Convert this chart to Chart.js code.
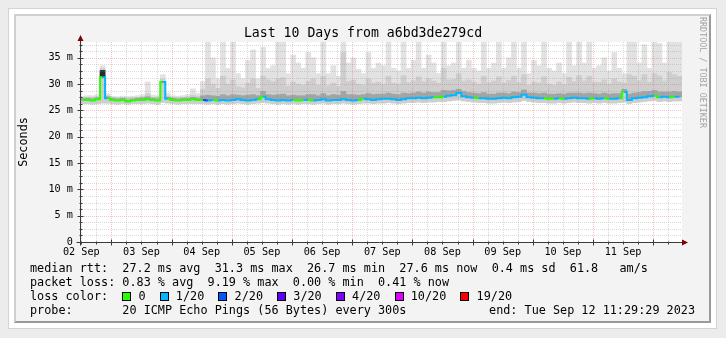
<!DOCTYPE html>
<html>
<head>
<meta charset="utf-8">
<title>a6bd3de279cd – last 10 days</title>
<script src="https://cdn.jsdelivr.net/npm/chart.js@4.4.0/dist/chart.umd.min.js"></script>
<style>
  html, body { margin: 0; padding: 0; width: 726px; height: 338px; overflow: hidden; background: #ececec; }
  #outer { position: absolute; left: 8px; top: 8px; width: 709px; height: 321px; box-sizing: border-box;
           background: #fff; border: 1px solid #d3d3d3; }
  #inner { position: absolute; left: 14px; top: 14px; width: 697px; height: 309px; box-sizing: border-box;
           background: #f3f3f3; border-top: 2px solid #cfcfcf; border-left: 2px solid #cfcfcf;
           border-right: 2px solid #9a9a9a; border-bottom: 2px solid #9a9a9a; }
  canvas { position: absolute; left: 0; top: 0; }
  .t { position: absolute; font-family: "DejaVu Sans Mono", monospace; color: #000; white-space: pre; }
  #title { left: 0; width: 726px; text-align: center; top: 24px; font-size: 13.2px; line-height: 18px; }
  .row { left: 30px; font-size: 11.8px; line-height: 14px; }
  #end { right: 31px; font-size: 11.8px; line-height: 14px; top: 303px; }
  .sw { display: inline-block; width: 9px; height: 9px; box-sizing: border-box; border: 1px solid #000;
        vertical-align: -1px; }
  #wm { left: 698px; top: 17px; font-size: 8.4px; line-height: 10px; color: #a3a3a3; writing-mode: vertical-rl; }
</style>
</head>
<body>
<div id="outer"></div>
<div id="inner"></div>
<canvas id="c" width="726" height="338"></canvas>
<div class="t" id="title">Last 10 Days from a6bd3de279cd</div>
<div class="t" id="wm">RRDTOOL / TOBI OETIKER</div>
<div class="t row" style="top:261px">median rtt:  27.2 ms avg  31.3 ms max  26.7 ms min  27.6 ms now  0.4 ms sd  61.8   am/s</div>
<div class="t row" style="top:275px">packet loss: 0.83 % avg  9.19 % max  0.00 % min  0.41 % now</div>
<div class="t row" id="lossRow" style="top:289px"></div>
<div class="t row" style="top:303px">probe:       20 ICMP Echo Pings (56 Bytes) every 300s</div>
<div class="t" id="end">end: Tue Sep 12 11:29:29 2023</div>
<script>
// Time base: the graph covers 240 hours ending Tue Sep 12 11:29:29 2023, in 2-hour bins.
const startTime = Date.UTC(2023, 8, 2, 11, 29, 29);
const spanHours = 240;
const binHours = 2;

// Median round-trip time per bin (ms)
const median = [
  27.0, 27.0, 26.9, 27.1, 31.3, 27.3, 27.0, 26.9, 27.0, 26.7, 26.9, 27.0,
  27.0, 27.1, 27.0, 26.9, 30.4, 27.2, 27.0, 26.9, 27.0, 27.0, 27.1, 27.0,
  27.0, 26.9, 27.0, 26.9, 27.0, 26.9, 27.0, 27.1, 27.0, 26.9, 27.0, 27.1,
  27.6, 27.1, 27.0, 26.9, 27.0, 26.9, 27.0, 26.9, 27.0, 27.0, 26.9, 27.0,
  27.1, 26.9, 27.0, 27.0, 27.1, 27.0, 26.9, 27.0, 27.2, 27.1, 27.0, 27.1,
  27.2, 27.2, 27.1, 27.0, 27.1, 27.3, 27.3, 27.4, 27.3, 27.4, 27.5, 27.5,
  27.6, 27.8, 27.9, 28.3, 27.7, 27.5, 27.4, 27.3, 27.3, 27.2, 27.2, 27.3,
  27.4, 27.3, 27.5, 27.6, 28.0, 27.5, 27.4, 27.3, 27.3, 27.2, 27.2, 27.3,
  27.2, 27.3, 27.4, 27.3, 27.3, 27.2, 27.3, 27.2, 27.3, 27.2, 27.2, 27.3,
  28.5, 27.0, 27.3, 27.4, 27.5, 27.7, 27.8, 27.5, 27.6, 27.5, 27.6, 27.6
];

// Lost pings (out of 20) per bin
const lossPings = [
  0, 0, 0, 0, 1, 0, 0, 0, 0, 0, 0, 0,
  0, 0, 0, 0, 1, 0, 0, 0, 0, 0, 0, 0,
  2, 1, 0, 1, 1, 1, 1, 1, 1, 1, 1, 0,
  1, 1, 1, 1, 1, 1, 0, 0, 1, 0, 1, 1,
  1, 1, 1, 1, 1, 1, 1, 0, 1, 1, 1, 1,
  1, 1, 1, 1, 1, 1, 1, 1, 1, 1, 0, 0,
  1, 1, 1, 1, 1, 1, 0, 1, 1, 1, 1, 1,
  1, 1, 1, 1, 1, 1, 1, 1, 0, 0, 1, 0,
  1, 1, 1, 1, 1, 0, 1, 1, 0, 1, 1, 0,
  1, 1, 1, 1, 1, 1, 0, 1, 1, 0, 1, 1
];

// Smoke: fastest ping per bin (ms)
const smokeMin = [
  26.3, 26.3, 26.2, 26.3, 26.4, 26.4, 26.3, 26.2, 26.3, 26.2, 26.3, 26.3,
  26.3, 26.4, 26.3, 26.2, 26.5, 26.4, 26.3, 26.2, 26.3, 26.3, 26.3, 26.3,
  26.3, 26.2, 26.3, 26.2, 26.3, 26.2, 26.3, 26.4, 26.3, 26.2, 26.3, 26.4,
  26.5, 26.4, 26.3, 26.2, 26.3, 26.2, 26.3, 26.2, 26.3, 26.3, 26.2, 26.3,
  26.4, 26.2, 26.3, 26.3, 26.4, 26.3, 26.2, 26.3, 26.4, 26.4, 26.3, 26.4,
  26.4, 26.5, 26.4, 26.3, 26.4, 26.5, 26.5, 26.6, 26.5, 26.6, 26.6, 26.7,
  26.7, 26.8, 26.9, 27.0, 26.8, 26.7, 26.6, 26.5, 26.5, 26.4, 26.4, 26.5,
  26.6, 26.5, 26.6, 26.7, 26.9, 26.7, 26.6, 26.5, 26.5, 26.4, 26.4, 26.5,
  26.4, 26.5, 26.6, 26.5, 26.5, 26.4, 26.5, 26.4, 26.5, 26.4, 26.4, 26.5,
  26.6, 26.3, 26.5, 26.6, 26.7, 26.8, 26.9, 26.7, 26.8, 26.7, 26.8, 26.8
];

// Smoke: slowest ping per bin (ms, clipped at the top of the graph)
const smokeMax = [
  27.7, 27.8, 27.8, 28.0, 33.5, 28.2, 27.7, 27.6, 27.7, 27.6, 27.7, 27.8,
  28.0, 30.4, 27.9, 27.8, 31.8, 28.3, 27.8, 27.7, 27.8, 28.0, 29.1, 28.2,
  30.5, 38.0, 35.0, 31.0, 38.0, 33.0, 38.0, 32.0, 31.0, 34.5, 36.5, 31.0,
  37.0, 33.0, 33.5, 38.0, 38.0, 32.0, 35.5, 34.0, 33.0, 36.0, 35.0, 32.0,
  38.0, 32.0, 33.5, 31.5, 38.0, 34.0, 35.0, 32.8, 32.0, 36.0, 33.0, 34.0,
  33.5, 38.0, 33.0, 32.5, 38.0, 33.0, 34.5, 38.0, 33.0, 35.5, 34.0, 32.0,
  38.0, 33.5, 34.0, 38.0, 33.0, 34.5, 33.0, 32.5, 38.0, 33.0, 34.0, 38.0,
  33.0, 35.0, 38.0, 33.0, 38.0, 32.0, 34.5, 33.5, 38.0, 33.0, 32.5, 34.0,
  32.0, 38.0, 33.5, 38.0, 34.0, 38.0, 33.0, 33.5, 35.0, 32.5, 36.0, 33.0,
  32.0, 38.0, 38.0, 34.0, 37.5, 33.0, 38.0, 37.7, 34.0, 38.0, 38.0, 38.0
];

// Smoke: upper edge of the dense middle pings per bin (ms)
const smokeMid = [
  27.4, 27.5, 27.5, 27.6, 33.0, 27.8, 27.4, 27.4, 27.4, 27.4, 27.4, 27.5,
  27.6, 28.2, 27.5, 27.5, 30.9, 27.7, 27.5, 27.4, 27.5, 27.6, 27.9, 27.7,
  29.0, 31.0, 30.0, 29.2, 31.5, 30.0, 30.8, 29.5, 29.3, 30.2, 31.0, 29.2,
  31.5, 30.8, 30.5, 31.0, 31.2, 29.6, 30.4, 30.0, 29.8, 30.5, 31.0, 29.8,
  31.5, 29.7, 30.2, 29.6, 36.0, 30.5, 30.8, 30.0, 29.8, 31.0, 30.2, 30.4,
  30.0, 31.5, 30.2, 30.0, 31.6, 30.3, 30.6, 31.4, 30.5, 31.0, 30.6, 30.2,
  33.0, 30.8, 30.9, 32.0, 30.6, 30.8, 30.4, 30.0, 31.5, 30.3, 30.6, 31.4,
  30.2, 30.7, 31.5, 30.3, 31.8, 29.8, 30.4, 30.2, 31.4, 30.0, 29.8, 30.4,
  29.9, 31.3, 30.5, 31.6, 30.6, 31.5, 30.4, 30.3, 30.8, 30.0, 31.0, 30.4,
  30.2, 31.8, 31.5, 30.6, 31.8, 30.4, 32.0, 31.6, 30.6, 32.2, 31.8, 31.5
];

// Smoke: dark core just above the median per bin (ms)
const coreTop = [
  27.3, 27.3, 27.2, 27.4, 32.6, 27.6, 27.3, 27.2, 27.3, 27.0, 27.2, 27.3,
  27.4, 27.6, 27.3, 27.2, 30.5, 27.5, 27.3, 27.2, 27.3, 27.3, 27.5, 27.3,
  27.8, 27.9, 27.8, 27.7, 28.0, 27.8, 28.0, 27.9, 27.8, 27.9, 28.0, 27.8,
  28.6, 28.0, 27.9, 28.0, 28.1, 27.8, 27.9, 27.8, 27.8, 28.0, 28.0, 27.8,
  28.2, 27.8, 28.0, 27.9, 28.6, 28.0, 28.0, 27.9, 28.0, 28.2, 28.0, 28.1,
  28.1, 28.3, 28.1, 28.0, 28.3, 28.2, 28.3, 28.5, 28.3, 28.5, 28.4, 28.4,
  28.8, 28.7, 28.8, 29.0, 28.6, 28.4, 28.3, 28.2, 28.4, 28.1, 28.1, 28.3,
  28.3, 28.2, 28.5, 28.4, 28.9, 28.3, 28.3, 28.2, 28.3, 28.1, 28.1, 28.2,
  28.1, 28.3, 28.3, 28.3, 28.2, 28.3, 28.2, 28.1, 28.3, 28.1, 28.2, 28.2,
  29.0, 28.1, 28.3, 28.4, 28.6, 28.6, 28.8, 28.5, 28.5, 28.5, 28.6, 28.5
];

// Loss colour scale
const lossSteps  = [0, 1, 2, 3, 4, 10, 19];
const lossLabels = ['0', '1/20', '2/20', '3/20', '4/20', '10/20', '19/20'];
const lossColors = ['#26ff00', '#00b8ff', '#0059ff', '#5e00ff', '#7e00ff', '#dd00ff', '#ff0000'];

// Value axis
const yMax = 38;
const yLabelStep = 5;
const yMinorStep = 1.25;
const slowCore = 30;   // cores reaching this high are drawn almost black

const monthNames = ['Jan','Feb','Mar','Apr','May','Jun','Jul','Aug','Sep','Oct','Nov','Dec'];
const HOUR = 3600e3;

function lossColorFor(n) {
  let c = lossColors[0];
  lossSteps.forEach((s, k) => { if (n >= s) c = lossColors[k]; });
  return c;
}
const binCenter = i => (i + 0.5) * binHours;

// legend swatches
document.getElementById('lossRow').innerHTML = 'loss color:  ' + lossLabels.map((lab, k) =>
  '<span class="sw" style="background:' + lossColors[k] + '"></span> ' + lab).join('  ');

const minorGrid = 'rgba(140,140,140,0.32)';
const majorGrid = 'rgba(220,100,100,0.38)';
const axisColor = '#3a3a3a';
const arrowColor = '#7f0000';

function forEachGridTime(cb) {
  const six = 6 * HOUR;
  for (let t = Math.ceil(startTime / six) * six; t < startTime + spanHours * HOUR; t += six) {
    cb((t - startTime) / HOUR, new Date(t).getUTCHours() === 0);
  }
}
function forEachGridValue(cb) {
  for (let k = 1; k * yMinorStep < yMax; k++) {
    const v = k * yMinorStep;
    cb(v, Math.abs(v / yLabelStep - Math.round(v / yLabelStep)) < 1e-9);
  }
}

const rrdDecor = {
  id: 'rrdDecor',
  beforeDatasetsDraw(chart) {
    const {ctx, chartArea: a} = chart;
    ctx.save();
    ctx.fillStyle = '#ffffff';
    ctx.fillRect(a.left, a.top, a.right - a.left, a.bottom - a.top);
    ctx.restore();
  },
  beforeDatasetDraw(chart, args) {
    if (args.meta.type !== 'line') return;
    const {ctx, chartArea: a, scales: {x, y}} = chart;
    ctx.save();
    ctx.lineWidth = 1;
    ctx.setLineDash([1, 1]);
    forEachGridValue((v, major) => {
      const py = Math.round(y.getPixelForValue(v)) + 0.5;
      ctx.strokeStyle = major ? majorGrid : minorGrid;
      ctx.beginPath(); ctx.moveTo(a.left, py); ctx.lineTo(a.right, py); ctx.stroke();
    });
    forEachGridTime((h, major) => {
      const px = Math.round(x.getPixelForValue(h)) + 0.5;
      ctx.strokeStyle = major ? majorGrid : minorGrid;
      ctx.beginPath(); ctx.moveTo(px, a.top); ctx.lineTo(px, a.bottom); ctx.stroke();
    });
    ctx.restore();
  },
  afterDraw(chart) {
    const {ctx, chartArea: a, scales: {x, y}} = chart;
    const ax = Math.round(a.left) + 0.5, ay = Math.round(a.bottom) + 0.5;
    ctx.save();
    ctx.strokeStyle = axisColor;
    ctx.lineWidth = 1;
    ctx.beginPath();
    ctx.moveTo(ax, ay + 3); ctx.lineTo(ax, a.top - 3);
    ctx.moveTo(ax - 4, ay); ctx.lineTo(a.right + 1, ay);
    forEachGridValue((v, major) => {
      const py = Math.round(y.getPixelForValue(v)) + 0.5;
      ctx.moveTo(ax - (major ? 3 : 1), py); ctx.lineTo(ax + (major ? 3 : 2), py);
    });
    forEachGridTime((h, major) => {
      const px = Math.round(x.getPixelForValue(h)) + 0.5;
      ctx.moveTo(px, ay - (major ? 3 : 1)); ctx.lineTo(px, ay + (major ? 3 : 2));
    });
    ctx.stroke();
    ctx.fillStyle = arrowColor;
    ctx.beginPath();
    ctx.moveTo(ax, a.top - 7); ctx.lineTo(ax - 3, a.top - 1); ctx.lineTo(ax + 3, a.top - 1); ctx.closePath();
    ctx.fill();
    ctx.beginPath();
    ctx.moveTo(a.right + 6, ay); ctx.lineTo(a.right, ay - 3); ctx.lineTo(a.right, ay + 3); ctx.closePath();
    ctx.fill();
    ctx.restore();
  }
};

Chart.defaults.font.family = '"DejaVu Sans Mono", monospace';
Chart.defaults.color = '#000';

const band = (lo, hi) => median.map((_, i) => ({x: binCenter(i), y: [lo[i], hi[i]]}));

new Chart(document.getElementById('c'), {
  type: 'bar',
  data: {
    datasets: [
      {
        type: 'line', label: 'median rtt', order: 0,
        data: median.map((v, i) => ({x: binCenter(i), y: v})),
        stepped: 'middle', borderWidth: 2, pointRadius: 0,
        borderColor: lossColors[0],
        segment: { borderColor: c => lossColorFor(lossPings[c.p0DataIndex]) }
      },
      {
        label: 'core', order: 1, data: band(median, coreTop),
        backgroundColor: c => (coreTop[c.dataIndex] >= slowCore ? '#2a2a2a' : '#a4a4a4')
      },
      { label: 'middle pings', order: 2, data: band(smokeMin, smokeMid), backgroundColor: '#cecece' },
      { label: 'all pings', order: 3, data: band(smokeMin, smokeMax), backgroundColor: '#e2e2e2' }
    ]
  },
  options: {
    responsive: false,
    devicePixelRatio: 1,
    animation: false,
    events: [],
    layout: { padding: { left: 0, top: 42, right: 44, bottom: 76 } },
    datasets: {
      bar: { grouped: false, barPercentage: 1, categoryPercentage: 1, borderWidth: 0 }
    },
    plugins: { legend: { display: false }, tooltip: { enabled: false }, title: { display: false } },
    scales: {
      x: {
        type: 'linear', min: 0, max: spanHours, offset: false,
        grid: { display: false, drawTicks: false }, border: { display: false },
        afterBuildTicks: s => {
          const ticks = [];
          const day = 24 * HOUR;
          for (let t = Math.floor(startTime / day) * day + 12 * HOUR; t <= startTime + spanHours * HOUR; t += day) {
            if (t >= startTime) ticks.push({value: (t - startTime) / HOUR});
          }
          s.ticks = ticks;
        },
        afterFit: s => { s.height = 20; },
        ticks: {
          autoSkip: false, maxRotation: 0, padding: 4, font: { size: 10.2 },
          callback: v => {
            const d = new Date(startTime + v * HOUR);
            return String(d.getUTCDate()).padStart(2, '0') + ' ' + monthNames[d.getUTCMonth()];
          }
        }
      },
      y: {
        min: 0, max: yMax,
        grid: { display: false, drawTicks: false }, border: { display: false },
        afterFit: s => { s.width = 80; },
        ticks: {
          stepSize: yLabelStep, includeBounds: false, padding: 7, font: { size: 10.2 },
          callback: v => v === 0 ? '0' : v + ' m'
        },
        title: { display: true, text: 'Seconds', font: { size: 11.8 }, padding: { top: 17, bottom: 0 } }
      }
    }
  },
  plugins: [rrdDecor]
});
</script>
</body>
</html>
